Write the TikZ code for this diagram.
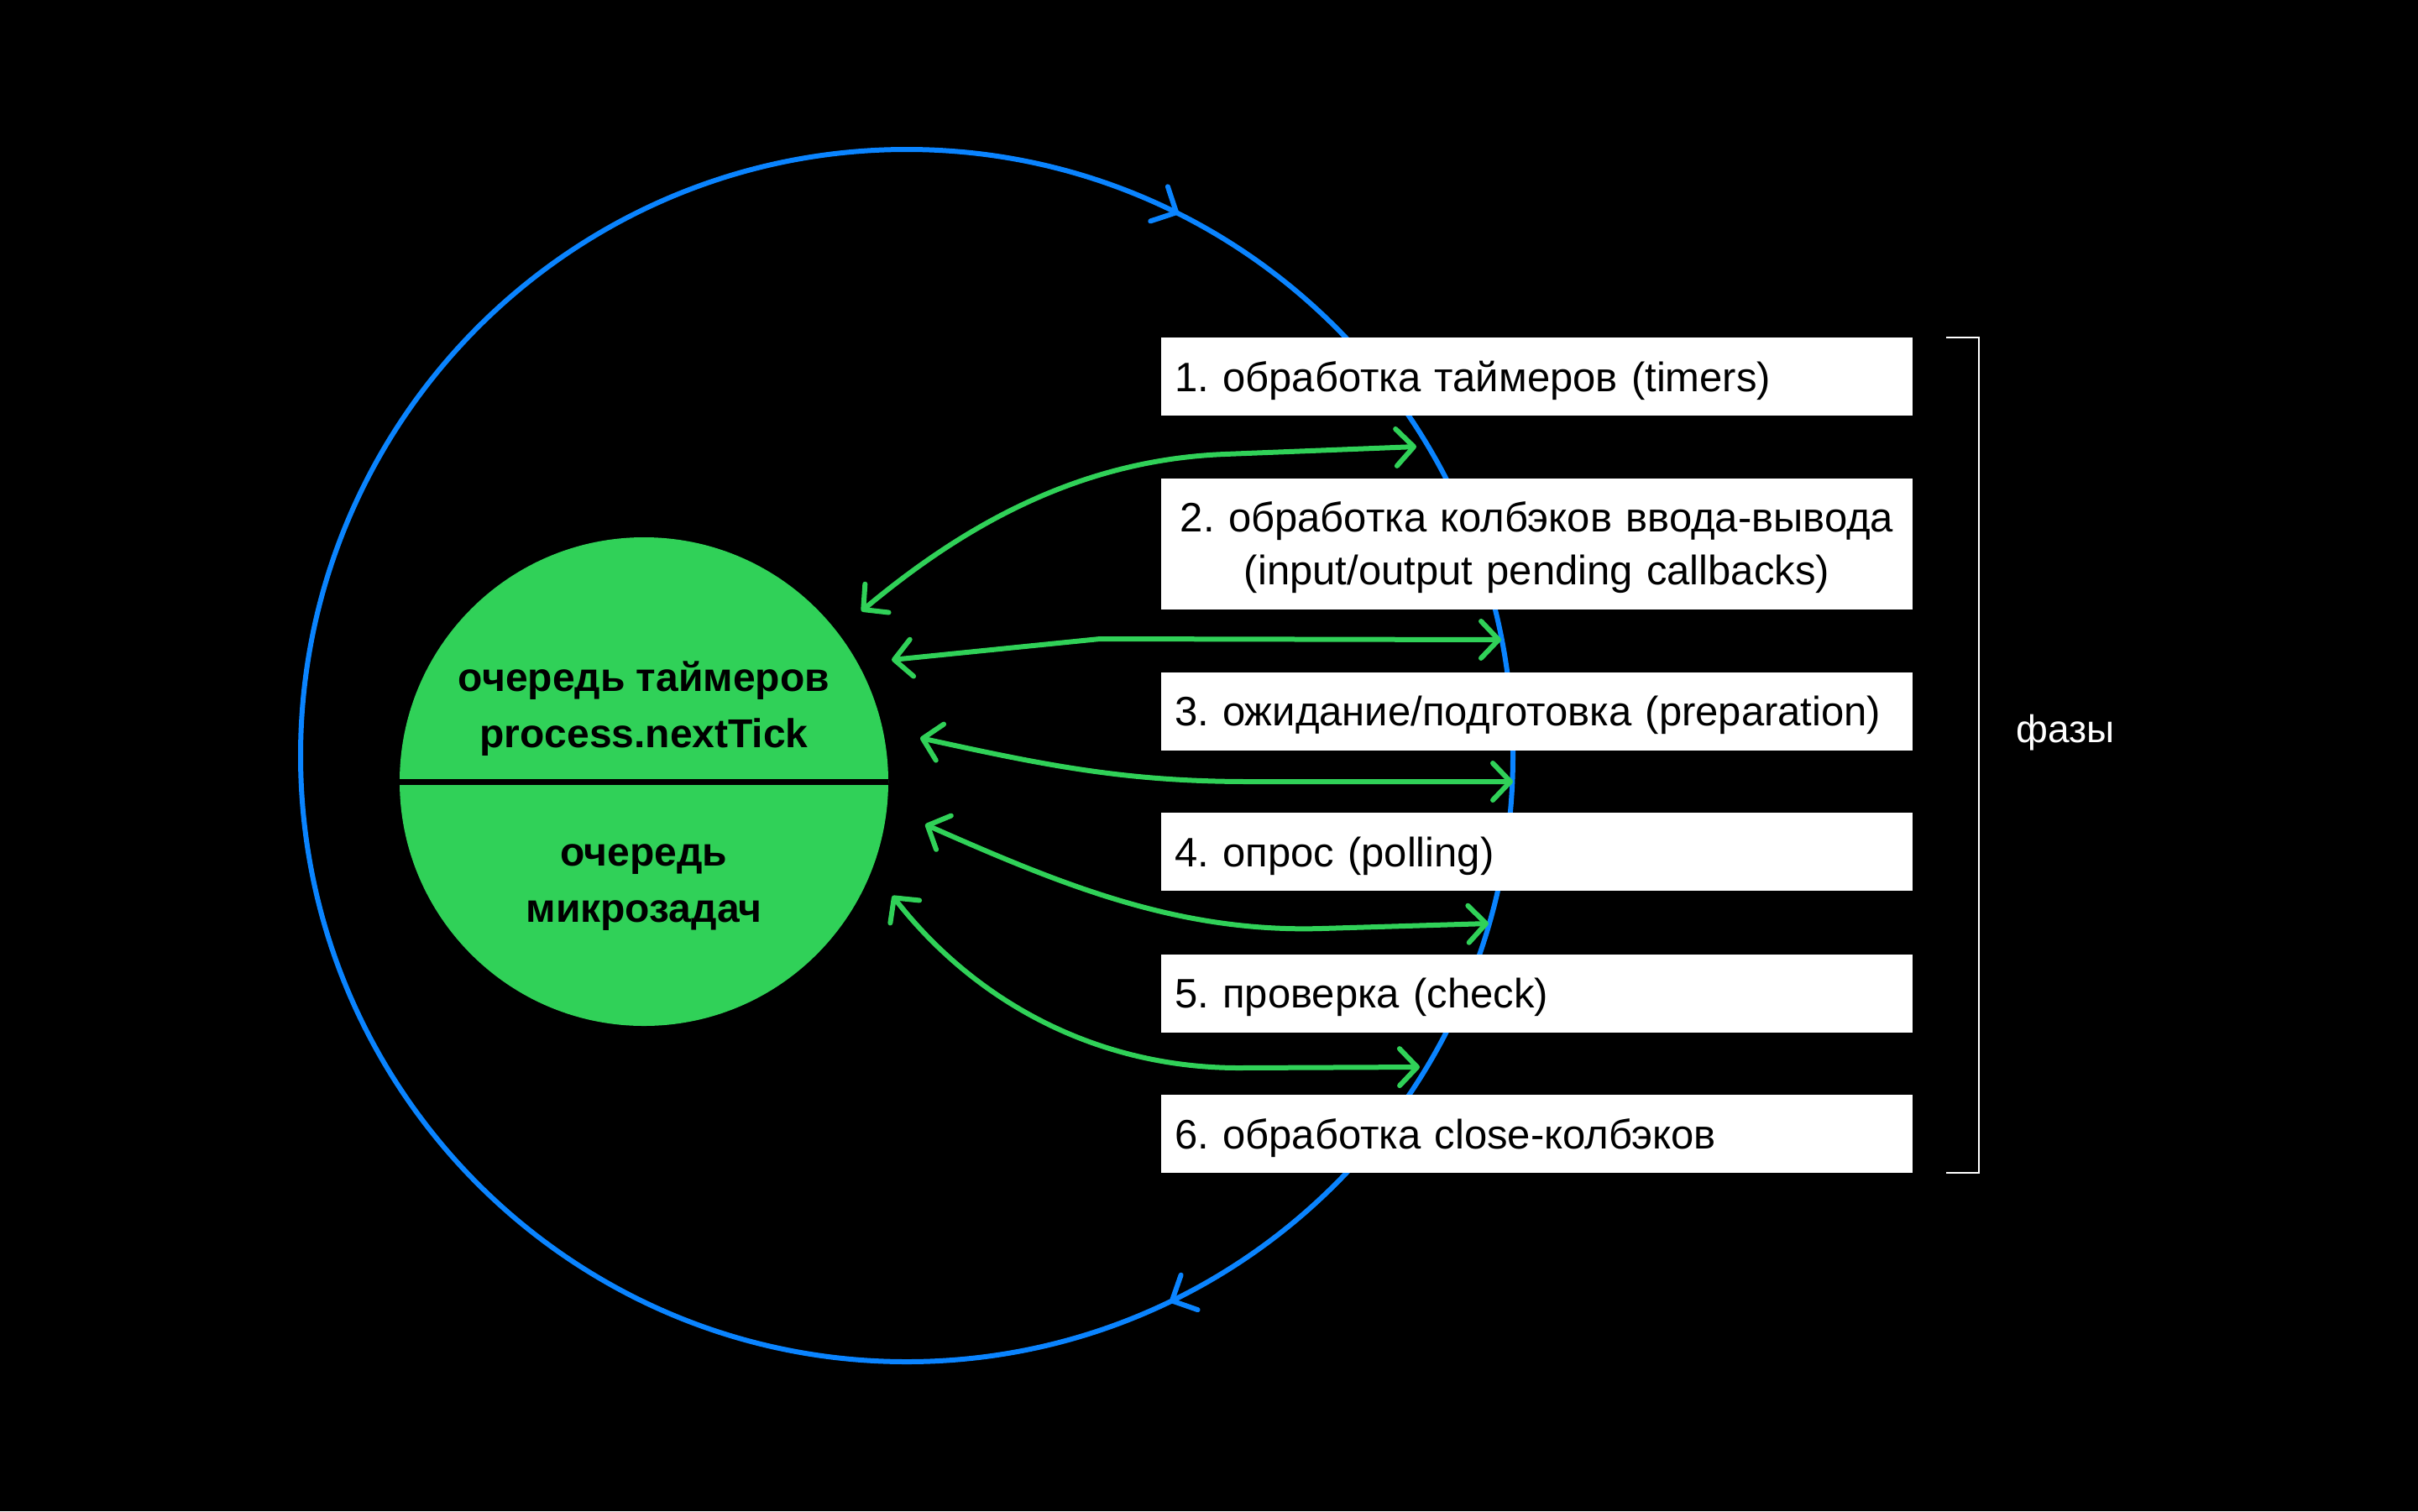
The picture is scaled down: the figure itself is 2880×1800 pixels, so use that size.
\documentclass[tikz,border=0pt]{standalone}
\usepackage{fontspec}
\setmainfont{Liberation Sans}
\usetikzlibrary{arrows.meta,decorations.markings}
\definecolor{loopblue}{RGB}{10,132,255}
\definecolor{qgreen}{RGB}{48,209,88}
\frenchspacing
\begin{document}
\begin{tikzpicture}[x=1pt,y=-1pt,
  phase/.style={fill=white, text=black, minimum width=895pt, minimum height=93pt,
    inner xsep=16pt, inner ysep=0pt, text width=863pt, align=left, text depth=0pt,
    font=\fontsize{49}{63}\selectfont},
  qtext/.style={text=black, align=center, inner sep=0pt, font=\bfseries\fontsize{48}{67}\selectfont},
  gtip/.tip={Straight Barb[length=21pt,width=44pt,round]},
  btip/.tip={Straight Barb[length=23pt,width=46pt,round]},
  link/.style={draw=qgreen, line width=6pt, line cap=round, line join=round, gtip-gtip},
  loop/.style={draw=loopblue, line width=6pt,
    postaction={decorate},
    decoration={markings,
      mark=at position 0.1786 with {\arrow{btip}},
      mark=at position 0.824 with {\arrow{btip}}}},
  bracketline/.style={draw=white, line width=2pt}
]
\useasboundingbox (0,0) rectangle (2880,1800);
\fill[black] (0,0) rectangle (2880,1800);

% event loop circle
\coordinate (lc) at (1080,900);
\draw[loop] (lc) ++(722,0) arc[start angle=0, end angle=360, radius=722];

% microtask queue circle
\node[circle, fill=qgreen, minimum size=582pt, inner sep=0pt] (mq) at (767,931) {};
\draw[black, line width=7pt] (mq.west) -- (mq.east);
\node[qtext] (qtop) at (767,844) {очередь таймеров\\process.nextTick};
\node[qtext] (qbot) at (767,1057) {очередь\\микрозадач};

% phase boxes
\node[phase] (p1) at (1830.5,448.5) {1. обработка таймеров (timers)};
\node[phase, align=center, minimum height=156pt, text depth=65pt] (p2) at (1830.5,648) {2. обработка колбэков ввода-вывода\\(input/output pending callbacks)};
\node[phase] (p3) at (1830.5,847) {3. ожидание/подготовка (preparation)};
\node[phase] (p4) at (1830.5,1014.5) {4. опрос (polling)};
\node[phase] (p5) at (1830.5,1183) {5. проверка (check)};
\node[phase] (p6) at (1830.5,1350.5) {6. обработка close-колбэков};

% bracket
\coordinate (bt) at (2318,402);
\coordinate (bb) at (2318,1397);
\draw[bracketline] (bt) -- ++(39,0) |- (bb);
\node[text=white, font=\fontsize{46}{50}\selectfont, anchor=west, inner sep=0pt] (phases) at (2401,873) {фазы};

% connector end points
\coordinate (L1) at (1026,728);  \coordinate (J1) at (1459,541);  \coordinate (R1) at (1687,532);
\coordinate (L2) at (1062,786);  \coordinate (J2) at (1310,761);  \coordinate (R2) at (1788,762);
\coordinate (L3) at (1096,879);  \coordinate (J3) at (1488,931);  \coordinate (R3) at (1802,931);
\coordinate (L4) at (1102,982);  \coordinate (J4) at (1574,1106); \coordinate (R4) at (1773,1100);
\coordinate (L5) at (1063,1067); \coordinate (J5) at (1476,1272); \coordinate (R5) at (1691,1271);

\draw[link] (L1) .. controls (1141,632) and (1279,548) .. (J1) -- (R1);
\draw[link] (L2) -- (J2) -- (R2);
\draw[link] (L3) .. controls (1243,911) and (1338,931) .. (J3) -- (R3);
\draw[link] (L4) .. controls (1267,1055) and (1404,1111) .. (J4) -- (R4);
\draw[link] (L5) .. controls (1161,1193) and (1306,1272) .. (J5) -- (R5);
\end{tikzpicture}
\end{document}
